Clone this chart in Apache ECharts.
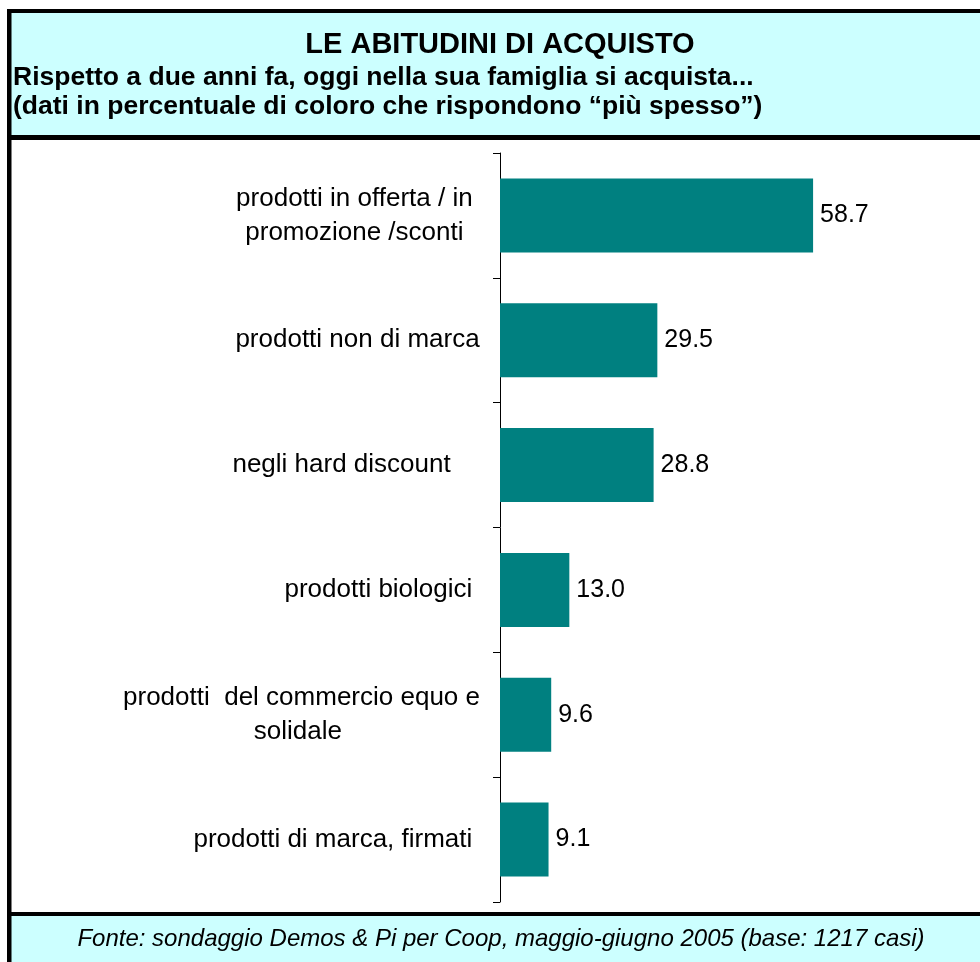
<!DOCTYPE html>
<html>
<head>
<meta charset="utf-8">
<title>Le abitudini di acquisto</title>
<script src="https://cdn.jsdelivr.net/npm/echarts@6/dist/echarts.min.js"></script>
<style>
  html, body { margin: 0; padding: 0; background: #ffffff; }
  #chart { width: 980px; height: 962px; }
</style>
</head>
<body>
<div id="chart"></div>
<script>
// dati (dall'alto verso il basso)
var categorie = [
  "prodotti in offerta / in \npromozione /sconti ",
  "prodotti non di marca",
  "negli hard discount    ",
  "prodotti biologici ",
  "prodotti  del commercio equo e\nsolidale ",
  "prodotti di marca, firmati "
];
var valori = [58.7, 29.5, 28.8, 13.0, 9.6, 9.1];

var titolo = "LE ABITUDINI DI ACQUISTO";
var sottotitolo = [
  "Rispetto a due anni fa, oggi nella sua famiglia si acquista...",
  "(dati in percentuale di coloro che rispondono \u201cpi\u00f9 spesso\u201d)"
];
var fonte = "Fonte: sondaggio Demos & Pi per Coop, maggio-giugno 2005 (base: 1217 casi)";

var FONT = "'Liberation Sans', Arial, sans-serif";
var CIANO = "#CCFFFF";
var TEAL = "#008080";

// larghezza di ogni etichetta, per centrare le righe dentro il blocco
var cvs = document.createElement("canvas").getContext("2d");
cvs.font = "26px 'Liberation Sans'";
var rich = {};
categorie.forEach(function (c, i) {
  var w = 0;
  c.split("\n").forEach(function (l) {
    w = Math.max(w, cvs.measureText(l).width);
  });
  rich["r" + i] = {
    width: Math.ceil(w),
    align: "center",
    fontSize: 26,
    fontFamily: FONT,
    color: "#000",
    lineHeight: 34
  };
});

var chart = echarts.init(document.getElementById("chart"));

var option = {
  backgroundColor: "#ffffff",
  animation: false,
  grid: { left: 500, top: 153, width: 426.7, height: 749, containLabel: false },
  xAxis: {
    type: "value",
    min: 0,
    max: 80,
    show: false
  },
  yAxis: {
    type: "category",
    inverse: true,
    data: categorie,
    axisLine: { show: true, lineStyle: { color: "#000", width: 1 } },
    axisTick: { show: true, length: 7, lineStyle: { color: "#000" } },
    axisLabel: {
      margin: 20,
      fontSize: 26,
      fontFamily: FONT,
      color: "#000",
      lineHeight: 34,
      formatter: function (v, i) {
        return v.split("\n").map(function (l) {
          return "{r" + i + "|" + l + "}";
        }).join("\n");
      },
      rich: rich
    },
    splitLine: { show: false }
  },
  series: [{
    type: "bar",
    data: valori,
    barWidth: 74,
    itemStyle: { color: TEAL },
    label: {
      show: true,
      position: "right",
      distance: 7,
      fontSize: 25,
      fontFamily: FONT,
      color: "#000",
      formatter: function (p) { return p.value.toFixed(1); }
    }
  }],
  graphic: [
    // riquadro intestazione
    { type: "rect", shape: { x: 11, y: 13, width: 969, height: 122 }, style: { fill: CIANO }, z: -1 },
    { type: "rect", shape: { x: 7, y: 9, width: 973, height: 4 }, style: { fill: "#000" } },
    { type: "rect", shape: { x: 7, y: 135, width: 973, height: 5 }, style: { fill: "#000" } },
    // riquadro fonte
    { type: "rect", shape: { x: 11, y: 916, width: 969, height: 46 }, style: { fill: CIANO }, z: -1 },
    { type: "rect", shape: { x: 7, y: 912, width: 973, height: 4 }, style: { fill: "#000" } },
    // bordo sinistro
    { type: "rect", shape: { x: 7, y: 9, width: 4.5, height: 953 }, style: { fill: "#000" } },
    {
      type: "text", x: 500, y: 45,
      style: { text: titolo, font: "bold 29px " + FONT, fill: "#000", textAlign: "center", textVerticalAlign: "middle" }
    },
    {
      type: "text", x: 13, y: 78,
      style: { text: sottotitolo[0], font: "bold 26.5px " + FONT, fill: "#000", textAlign: "left", textVerticalAlign: "middle" }
    },
    {
      type: "text", x: 13, y: 107,
      style: { text: sottotitolo[1], font: "bold 26.5px " + FONT, fill: "#000", textAlign: "left", textVerticalAlign: "middle" }
    },
    {
      type: "text", x: 501, y: 939,
      style: { text: fonte, font: "italic 24px " + FONT, fill: "#000", textAlign: "center", textVerticalAlign: "middle" }
    }
  ]
};

chart.setOption(option);
</script>
</body>
</html>
